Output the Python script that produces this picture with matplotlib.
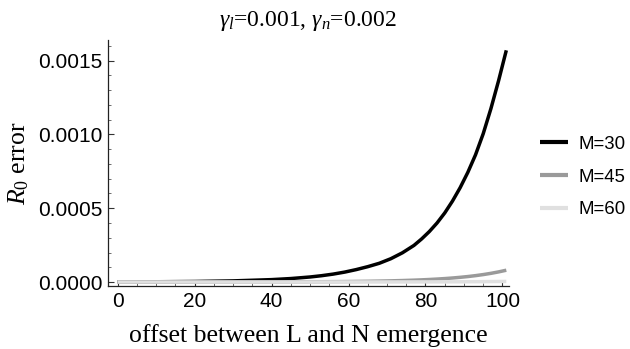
import matplotlib
matplotlib.use("Agg")
import matplotlib.pyplot as plt
from matplotlib.ticker import MultipleLocator, FormatStrFormatter

# ---- data ----
offset = [0, 10, 20, 30, 40, 45, 50, 53, 56, 59, 62, 65, 68, 71, 74, 77, 79, 81, 83,
          85, 87, 89, 91, 93, 95, 97, 99, 101]
err_M30 = [0.0000008, 0.0000017, 0.0000036, 0.0000077, 0.0000162, 0.0000235, 0.0000341,
           0.0000428, 0.0000536, 0.0000672, 0.0000842, 0.000104, 0.000127, 0.000158,
           0.000198, 0.000248, 0.000292, 0.000342, 0.000400, 0.000468, 0.000548,
           0.000639, 0.000743, 0.000862, 0.001005, 0.001175, 0.001365, 0.001570]
err_M45 = [0.00000002, 0.00000005, 0.0000001, 0.0000003, 0.0000007, 0.0000011, 0.0000016,
           0.000002, 0.0000025, 0.0000031, 0.000004, 0.000005, 0.0000063, 0.0000079,
           0.00001, 0.0000126, 0.0000147, 0.0000171, 0.00002, 0.0000233, 0.0000272,
           0.0000318, 0.000037, 0.0000432, 0.0000504, 0.0000588, 0.0000686, 0.00008]
err_M60 = [0.0, 0.0, 0.00000001, 0.00000002, 0.00000004, 0.00000006, 0.0000001,
           0.00000012, 0.00000015, 0.00000019, 0.00000024, 0.0000003, 0.00000037,
           0.00000046, 0.00000057, 0.0000007, 0.0000008, 0.0000009, 0.000001,
           0.0000012, 0.0000014, 0.0000016, 0.0000019, 0.0000022, 0.0000026,
           0.000003, 0.0000035, 0.000004]
labels = ["M=30", "M=45", "M=60"]
colors = ["#000000", "#9a9a9a", "#e0e0e0"]
title = r"$\gamma_l$=0.001, $\gamma_n$=0.002"
xlabel = "offset between L and N emergence"
ylabel = r"$R_0$ error"

plt.rcParams["mathtext.fontset"] = "custom"
plt.rcParams["mathtext.rm"] = "Liberation Serif"
plt.rcParams["mathtext.it"] = "Liberation Serif:italic"

fig = plt.figure(figsize=(6.30, 3.49), dpi=100)
ax = fig.add_axes([108/630, 63/349, (509-108)/630, (286-40)/349])

for y, lab, c in zip([err_M30, err_M45, err_M60], labels, colors):
    ax.plot(offset, y, color=c, lw=2.5, label=lab, solid_capstyle="butt",
            solid_joinstyle="round")

ax.set_xlim(-2.5, 101.7)
ax.set_ylim(-0.000027, 0.00164)

for s in ["top", "right"]:
    ax.spines[s].set_visible(False)
for s in ["left", "bottom"]:
    ax.spines[s].set_linewidth(0.9)
    ax.spines[s].set_color("#222222")

ax.xaxis.set_major_locator(MultipleLocator(20))
ax.xaxis.set_minor_locator(MultipleLocator(5))
ax.yaxis.set_major_locator(MultipleLocator(0.0005))
ax.yaxis.set_minor_locator(MultipleLocator(0.0001))
ax.yaxis.set_major_formatter(FormatStrFormatter("%.4f"))
ax.tick_params(which="major", direction="in", length=4, width=0.8, color="#333333",
               labelsize=15, pad=4)
ax.tick_params(which="minor", direction="in", length=2.5, width=0.6, color="#555555")
for t in ax.get_xticklabels() + ax.get_yticklabels():
    t.set_fontfamily("Liberation Sans")

ax.set_xlabel(xlabel, fontfamily="Liberation Serif", fontsize=18.5, labelpad=10)
ax.set_ylabel(ylabel, fontfamily="Liberation Serif", fontsize=18.5, labelpad=5)
ax.set_title(title, fontfamily="Liberation Serif", fontsize=17, pad=10)

leg = fig.legend(loc="center left", bbox_to_anchor=(540/630, 1 - 177/349),
                 frameon=False, prop={"family": "Liberation Sans", "size": 13.4},
                 handlelength=1.5, handletextpad=0.55, labelspacing=0.85,
                 borderpad=0, borderaxespad=0)
for l in leg.get_lines():
    l.set_linewidth(3)

fig.savefig("out.png", dpi=100)
